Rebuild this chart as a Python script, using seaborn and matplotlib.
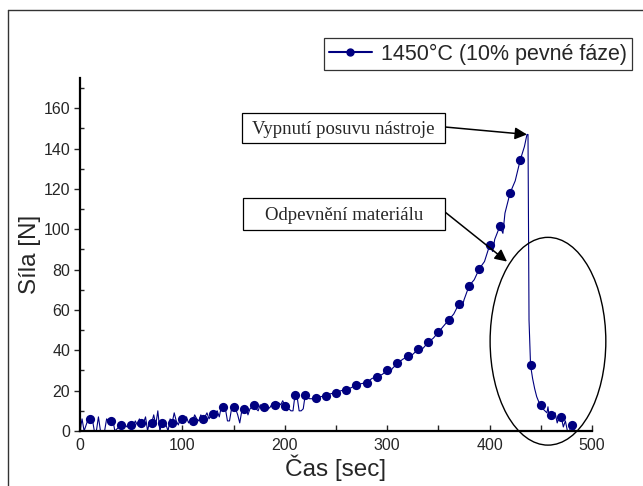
import numpy as np
import pandas as pd
import matplotlib
matplotlib.use("Agg")
import matplotlib.pyplot as plt
import seaborn as sns
from matplotlib.ticker import MultipleLocator
from matplotlib.lines import Line2D
from matplotlib.patches import Rectangle, Ellipse

# ---------------- data ----------------
series_label = "1450°C (10% pevné fáze)"
x_label = "Čas [sec]"
y_label = "Síla [N]"
note_stop = "Vypnutí posuvu nástroje"
note_soft = "Odpevnění materiálu"

# measured force signal (noisy part, 2 s sampling 0..230 s)
line_t_a = list(range(0, 232, 2))
line_f_a = [0, 6, 0, 3, 6, 6, 6, 0, 0, 7,
            0, 0, 0, 6, 5, 5, 6, 0, 1, 2,
            3, 2, 3, 2, 3, 3, 2, 5, 3, 6,
            4, 4, 7, 0, 5, 4, 8, 3, 10, 0,
            4, 5, 3, 0, 6, 4, 9, 5, 3, 6,
            6, 5, 7, 4, 6, 5, 8, 6, 5, 8,
            6, 7, 9, 6, 8, 8.5, 9, 10, 7, 12,
            12, 11, 5, 5, 11, 12, 11, 8, 4, 10,
            11, 12, 8, 11, 12, 13, 11, 10, 13, 12,
            12, 13, 11, 12, 14, 13, 11, 14, 13, 15,
            12.5, 10, 11, 10, 10, 18, 17, 10, 10, 11,
            18, 17, 16, 16, 16, 16.5]
# rising part, peak, drop and decay
line_t_b = [235, 240, 245, 250, 255, 260, 265, 270, 275, 280,
            285, 290, 295, 300, 303, 305, 310, 315, 320, 325,
            330, 335, 340, 345, 350, 355, 360, 365, 370, 373,
            375, 380, 385, 390, 395, 400, 403, 405, 410, 413,
            415, 420, 425, 430, 434, 436.5, 437.5, 438.5, 440, 442,
            444, 446, 448, 450, 452, 454, 456, 457, 458, 460,
            462, 464, 466, 468, 470, 472, 474, 476, 478, 480,
            482, 484]
line_f_b = [17, 17.5, 18.5, 19, 20, 20.5, 21.5, 23, 23.5, 24,
            26, 27, 28, 30, 29, 31, 33.5, 35.5, 37, 38,
            40.5, 41, 44, 46, 49, 52, 55, 58, 63, 61,
            65, 72, 75, 80.5, 84, 92, 89, 95, 101.5, 98,
            108, 118, 124, 134.5, 141, 147, 147, 55, 32.5, 26,
            21, 17, 14.5, 13, 11, 10, 9, 12, 8, 8,
            6, 9, 4, 7, 7, 2, 5, 0, 0, 3,
            1, 0]

# plotted markers
marker_t = [10, 30, 40, 50, 60, 70, 80, 90, 100,
            110, 120, 130, 140, 150, 160, 170, 180, 190, 200,
            210, 220, 230, 240, 250, 260, 270, 280, 290, 300,
            310, 320, 330, 340, 350, 360, 370, 380, 390, 400,
            410, 420, 430, 440, 450, 460, 470, 480]
marker_f = [6, 5, 3, 3, 4, 4, 4, 4, 6,
            5, 6, 8.5, 12, 12, 11, 13, 12, 13, 12.5,
            18, 18, 16.5, 17.5, 19, 20.5, 23, 24, 27, 30,
            33.5, 37, 40.5, 44, 49, 55, 63, 72, 80.5, 92,
            101.5, 118, 134.5, 32.5, 13, 8, 7, 3]

x_ticks = [0, 100, 200, 300, 400, 500]
y_ticks = [0, 20, 40, 60, 80, 100, 120, 140, 160]

peak_point = (436.5, 147)
soft_point = (417, 84)
ellipse_center = (457, 44.5)
ellipse_size = (113, 103)

line_df = pd.DataFrame({"t": line_t_a + line_t_b, "f": line_f_a + line_f_b})
marker_df = pd.DataFrame({"t": marker_t, "f": marker_f})

# ---------------- style ----------------
sns.set_style("white")
plt.rcParams["font.family"] = ["Liberation Sans", "DejaVu Sans"]

NAVY = "#000080"
W, H = 643, 486
fx = lambda px: px / W
fy = lambda py: 1 - py / H

fig = plt.figure(figsize=(W / 100, H / 100), dpi=100)
ax = fig.add_axes([fx(80), fy(431), (592 - 80) / W, (431 - 78) / H])

sns.lineplot(data=line_df, x="t", y="f", ax=ax, color=NAVY, lw=0.8,
             sort=False, estimator=None, legend=False)
sns.scatterplot(data=marker_df, x="t", y="f", ax=ax, color=NAVY, s=44,
                edgecolor=NAVY, linewidth=0, legend=False, zorder=3)

ax.set_xlim(0, 500)
ax.set_ylim(0, 175)
ax.set_xticks(x_ticks)
ax.set_yticks(y_ticks)
ax.xaxis.set_minor_locator(MultipleLocator(50))
ax.yaxis.set_minor_locator(MultipleLocator(10))
ax.tick_params(axis="x", which="both", direction="in", length=4, width=1,
               labelsize=11.5, pad=5, bottom=True)
ax.tick_params(axis="y", which="major", direction="out", length=4, width=1,
               labelsize=11.5, pad=3, left=True)
ax.tick_params(axis="y", which="minor", direction="in", length=3, width=1, left=True)
for s in ["top", "right"]:
    ax.spines[s].set_visible(False)
for s in ["left", "bottom"]:
    ax.spines[s].set_linewidth(1.6)
    ax.spines[s].set_color("black")
ax.set_xlabel(x_label, fontsize=17.5, labelpad=1)
ax.set_ylabel(y_label, fontsize=17.5, labelpad=2)

# legend
handle = Line2D([], [], color=NAVY, lw=1.5, marker="o", markersize=5,
                markerfacecolor=NAVY, markeredgecolor=NAVY)
leg = fig.legend([handle], [series_label], loc="upper right",
                 bbox_to_anchor=(fx(632), fy(38)), frameon=True, fancybox=False,
                 fontsize=15.5, handlelength=2.0, handletextpad=0.4,
                 borderpad=0.25, borderaxespad=0)
leg.get_frame().set_edgecolor("black")
leg.get_frame().set_linewidth(0.9)

# annotation boxes
for (x0, y0, x1, y1, txt) in [(242, 113, 445, 143, note_stop),
                               (243, 198, 445, 230, note_soft)]:
    fig.patches.append(Rectangle((fx(x0), fy(y1)), fx(x1) - fx(x0), fy(y0) - fy(y1),
                                 transform=fig.transFigure, facecolor="white",
                                 edgecolor="black", lw=0.9, zorder=5))
    fig.text(fx((x0 + x1) / 2), fy((y0 + y1) / 2 + 1), txt, ha="center", va="center",
             fontsize=13.5, family=["Liberation Serif", "DejaVu Serif"], zorder=6)

arrow_kw = dict(arrowstyle="-|>", color="black", lw=1.1, mutation_scale=18,
                shrinkA=0, shrinkB=0)
ax.annotate("", xy=peak_point, xycoords="data", xytext=(fx(445), fy(127)),
            textcoords="figure fraction", arrowprops=arrow_kw, annotation_clip=False)
ax.annotate("", xy=soft_point, xycoords="data", xytext=(fx(445), fy(212)),
            textcoords="figure fraction", arrowprops=arrow_kw, annotation_clip=False)

ax.add_patch(Ellipse(ellipse_center, ellipse_size[0], ellipse_size[1], fill=False,
                     edgecolor="black", lw=1.0, clip_on=False, zorder=4))

# outer frame (left and top edges visible)
fig.add_artist(Line2D([fx(8), fx(8)], [fy(10), 0], transform=fig.transFigure,
                      color="#333333", lw=1))
fig.add_artist(Line2D([fx(8), 1], [fy(10), fy(10)], transform=fig.transFigure,
                      color="#333333", lw=1))

fig.savefig("out.png", dpi=100)
